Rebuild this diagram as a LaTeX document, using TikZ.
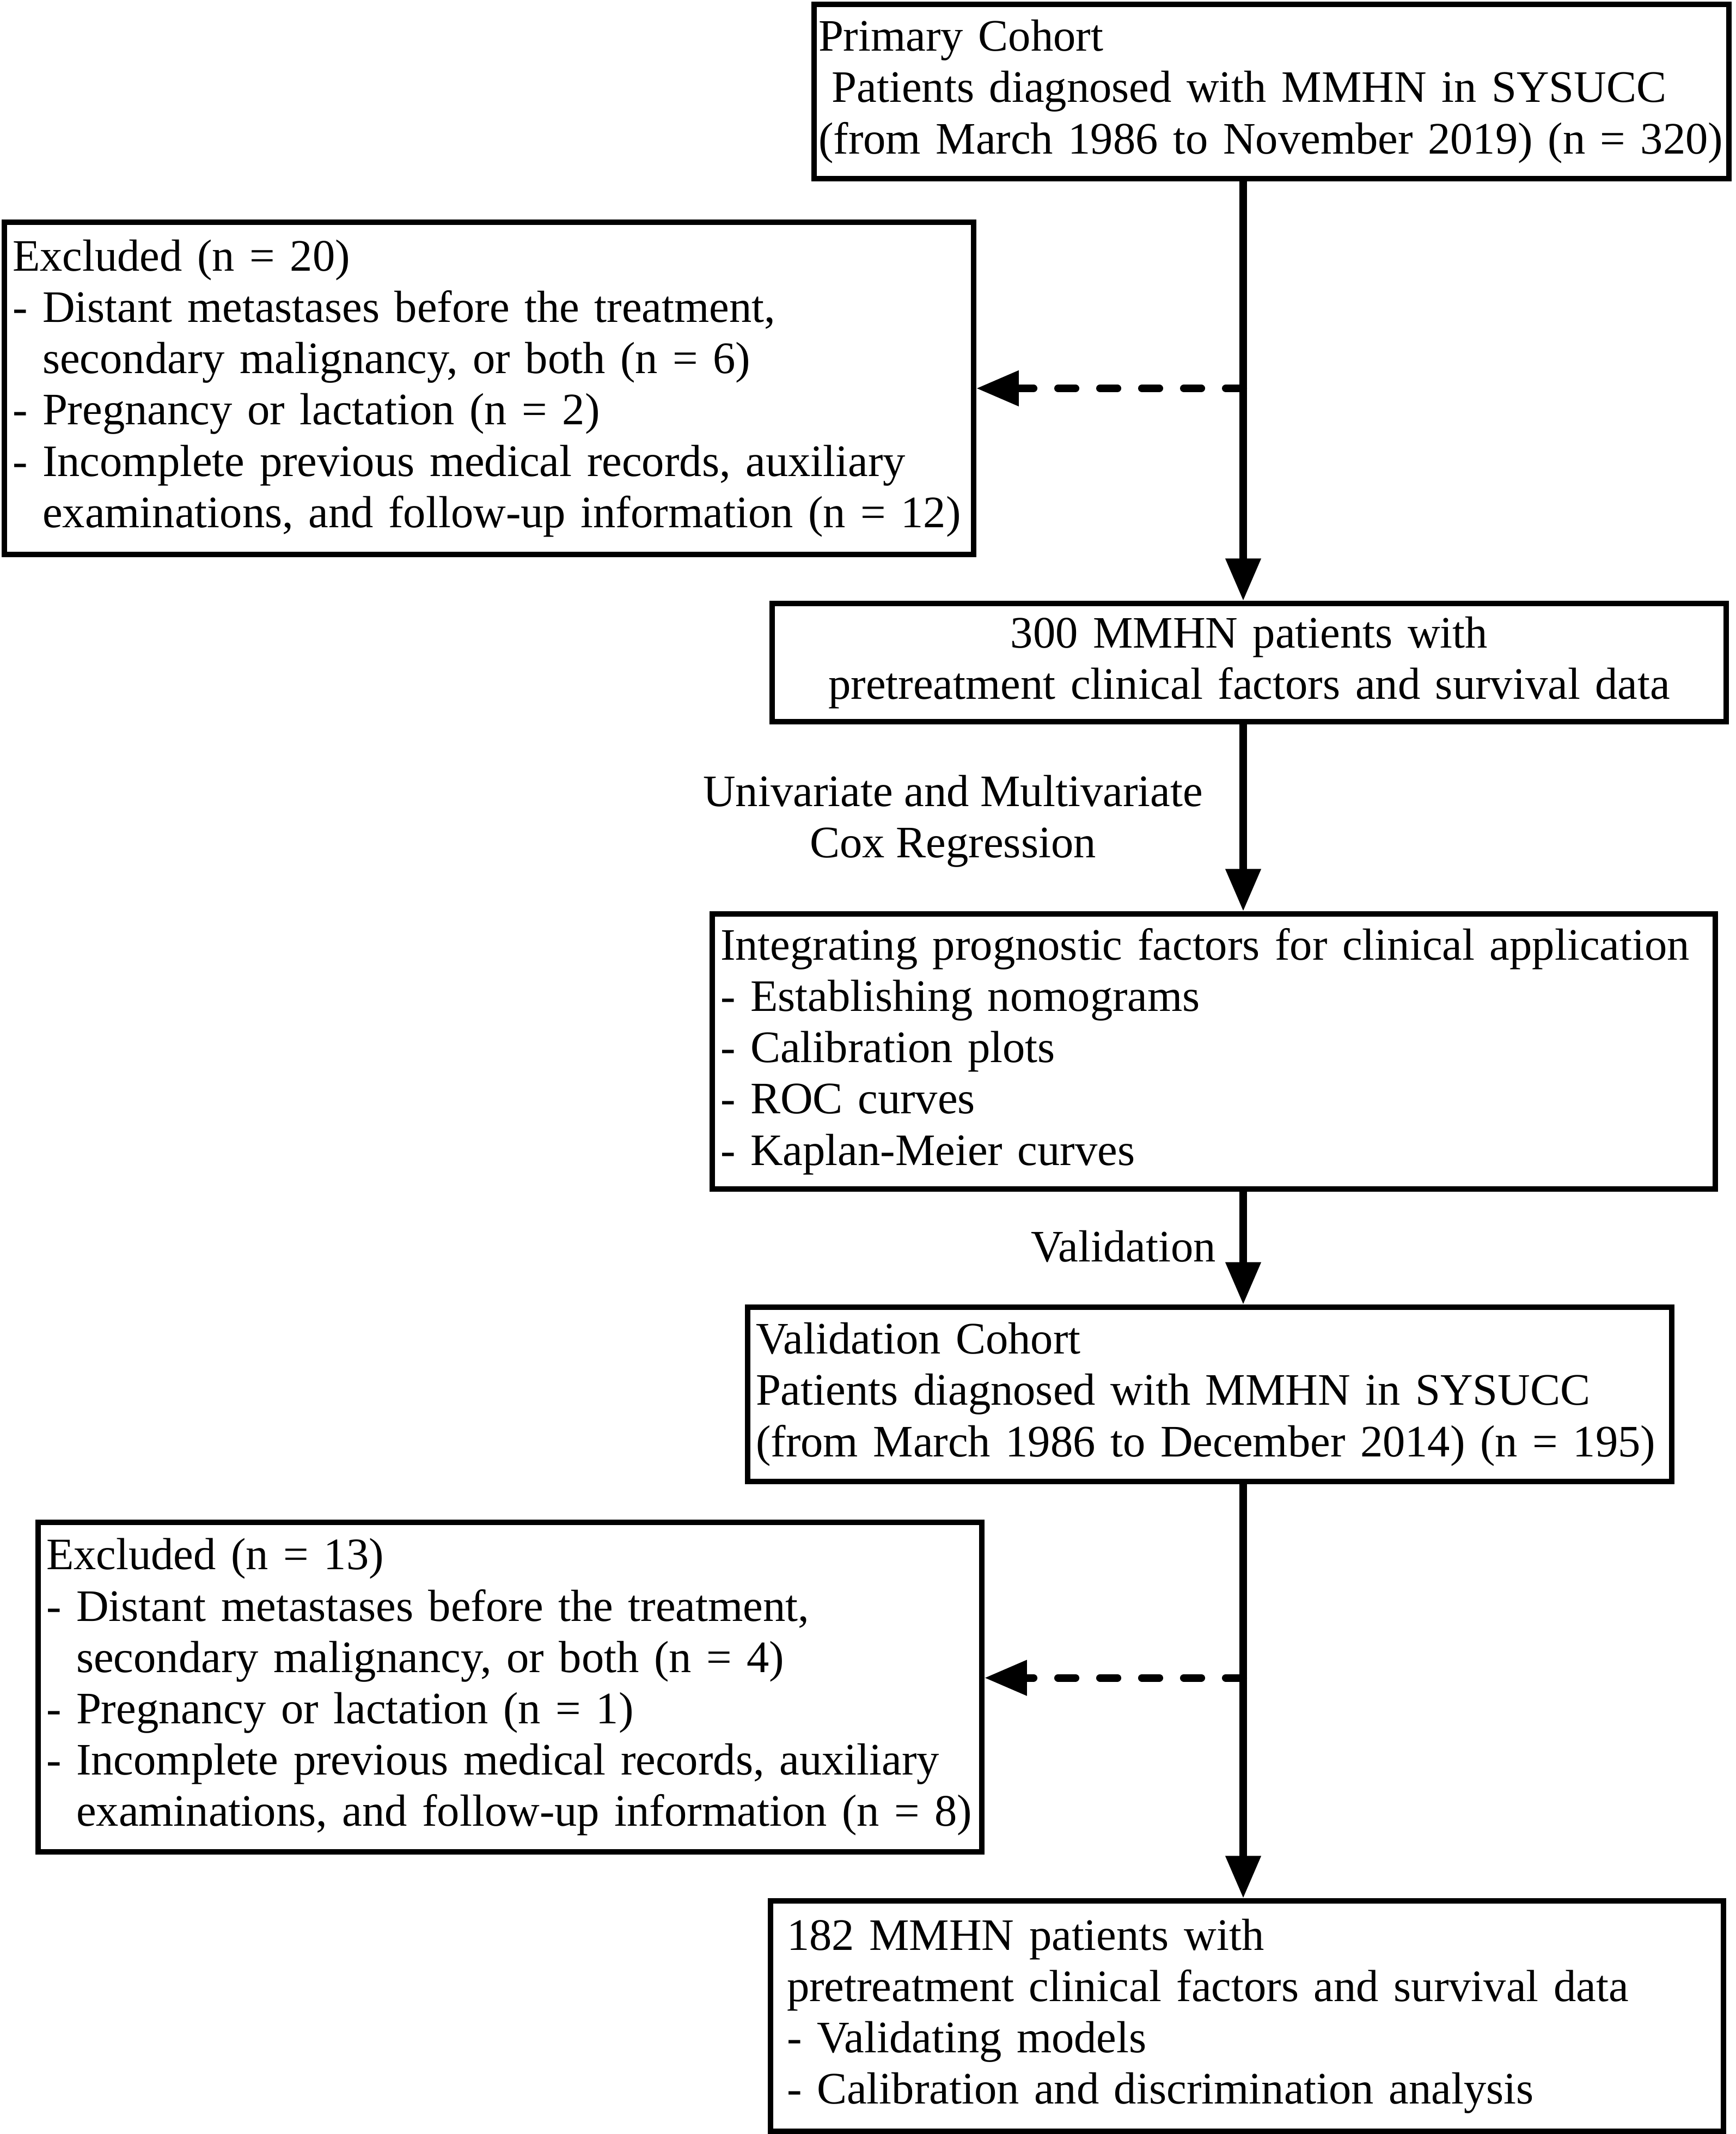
\documentclass[tikz,border=0pt]{standalone}
\usepackage{fontspec}
\setmainfont{Liberation Serif}
\usetikzlibrary{positioning, arrows.meta}

\begin{document}
\begin{tikzpicture}[
	box/.style={draw, line width=2.7pt, inner xsep=0.15cm, inner ysep=0pt, align=left, font=\fontsize{23.5}{26.8}\selectfont},
	arr/.style={line width=4pt, -{Triangle[width=0.62cm,length=0.78cm]}},
	dasharr/.style={arr, line cap=round, dash pattern=on 0.32cm off 0.45cm},
	lbl/.style={align=center, inner sep=0pt, font=\fontsize{23.5}{26.8}\selectfont}]
	\useasboundingbox (0,0) rectangle (31.88,-39.18);
	\coordinate (spine) at (22.83,0);

	\node (prim) at (23.35,-1.68) [box, inner xsep=0.08cm, text width=16.64cm, minimum height=3.20cm] {Primary Cohort\\\hspace*{0.3em}Patients diagnosed with MMHN in SYSUCC\\(from March 1986 to November 2019) (n = 320)};
	\node (excl1) at (8.98,-7.13) [box, text width=17.50cm, minimum height=6.10cm] {Excluded (n = 20)\\- Distant metastases before the treatment,\\\hphantom{- }secondary malignancy, or both (n = 6)\\- Pregnancy or lactation (n = 2)\\- Incomplete previous medical records, auxiliary\\\hphantom{- }examinations, and follow-up information (n = 12)};
	\node (pts300) at (22.94,-12.165) [box, align=center, text width=17.22cm, minimum height=2.17cm] {300 MMHN patients with\\pretreatment clinical factors and survival data};
	\node (integ) at (22.29,-19.305) [box, text width=18.12cm, minimum height=5.05cm] {Integrating prognostic factors for clinical application\\- Establishing nomograms\\- Calibration plots\\- ROC curves\\- Kaplan-Meier curves};
	\node (valid) at (22.215,-25.60) [box, text width=16.67cm, minimum height=3.20cm] {Validation Cohort\\Patients diagnosed with MMHN in SYSUCC\\(from March 1986 to December 2014) (n = 195)};
	\node (excl2) at (9.365,-30.975) [box, text width=17.03cm, minimum height=6.05cm] {Excluded (n = 13)\\- Distant metastases before the treatment,\\\hphantom{- }secondary malignancy, or both (n = 4)\\- Pregnancy or lactation (n = 1)\\- Incomplete previous medical records, auxiliary\\\hphantom{- }examinations, and follow-up information (n = 8)};
	\node (pts182) at (22.90,-37.015) [box, inner xsep=0.3cm, text width=16.90cm, minimum height=4.23cm] {182 MMHN patients with\\pretreatment clinical factors and survival data\\- Validating models\\- Calibration and discrimination analysis};

	\node (cox) at (17.50,-15.08) [lbl] {Univariate and Multivariate\\Cox Regression};
	\node (valtxt) at (20.63,-22.88) [lbl] {Validation};
	\coordinate (x2tip) at ([yshift=0.17cm]excl2.east);

	\draw[arr] (spine |- prim.south) -- (spine |- pts300.north);
	\draw[dasharr] (spine |- excl1.east) -- (excl1.east);
	\draw[arr] (spine |- pts300.south) -- (spine |- integ.north);
	\draw[arr] (spine |- integ.south) -- (spine |- valid.north);
	\draw[arr] (spine |- valid.south) -- (spine |- pts182.north);
	\draw[dasharr] (spine |- x2tip) -- (x2tip);
\end{tikzpicture}
\end{document}
